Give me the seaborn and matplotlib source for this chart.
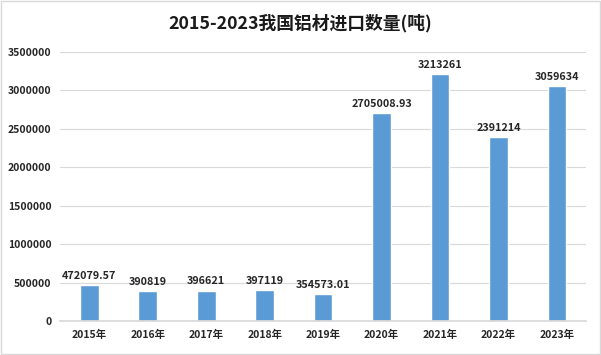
import matplotlib
matplotlib.use("Agg")
import matplotlib.pyplot as plt
import seaborn as sns
import pandas as pd

years = ["2015年", "2016年", "2017年", "2018年", "2019年", "2020年", "2021年", "2022年", "2023年"]
values = [472079.57, 390819, 396621, 397119, 354573.01, 2705008.93, 3213261, 2391214, 3059634]
labels = ["472079.57", "390819", "396621", "397119", "354573.01", "2705008.93", "3213261", "2391214", "3059634"]
title = "2015-2023我国铝材进口数量(吨)"

sns.set_theme(style="white")
plt.rcParams["font.family"] = ["Noto Sans CJK SC", "DejaVu Sans"]

df = pd.DataFrame({"year": years, "value": values})

fig = plt.figure(figsize=(6.01, 3.55), dpi=100)
ax = fig.add_axes([0.0998, 0.0958, 0.8757, 0.7577])
sns.barplot(data=df, x="year", y="value", color="#5B9BD5", saturation=1, width=0.32, ax=ax)

ax.set_ylim(0, 3500000)
ax.set_yticks(range(0, 3500001, 500000))
ax.set_yticklabels([str(v) for v in range(0, 3500001, 500000)])
ax.yaxis.grid(True, color="#D9D9D9", linewidth=0.8)
ax.set_axisbelow(True)
for s in ["top", "right", "left"]:
    ax.spines[s].set_visible(False)
ax.spines["bottom"].set_color("#D9D9D9")
ax.set_xlabel("")
ax.set_ylabel("")
ax.tick_params(axis="both", length=0, labelsize=7.5, pad=6, colors="#262626")
for t in ax.get_xticklabels() + ax.get_yticklabels():
    t.set_fontweight("bold")

ax.bar_label(ax.containers[0], labels=labels, padding=3, fontsize=7.8, fontweight="bold", color="#262626")

fig.text(0.5, 0.935, title, ha="center", va="center", fontsize=12.8, fontweight="bold", color="#1a1a1a")

border = plt.Rectangle((0.002, 0.003), 0.996, 0.994, transform=fig.transFigure,
                       fill=False, edgecolor="#D9D9D9", linewidth=1)
fig.patches.append(border)

fig.savefig("out.png", dpi=100)
